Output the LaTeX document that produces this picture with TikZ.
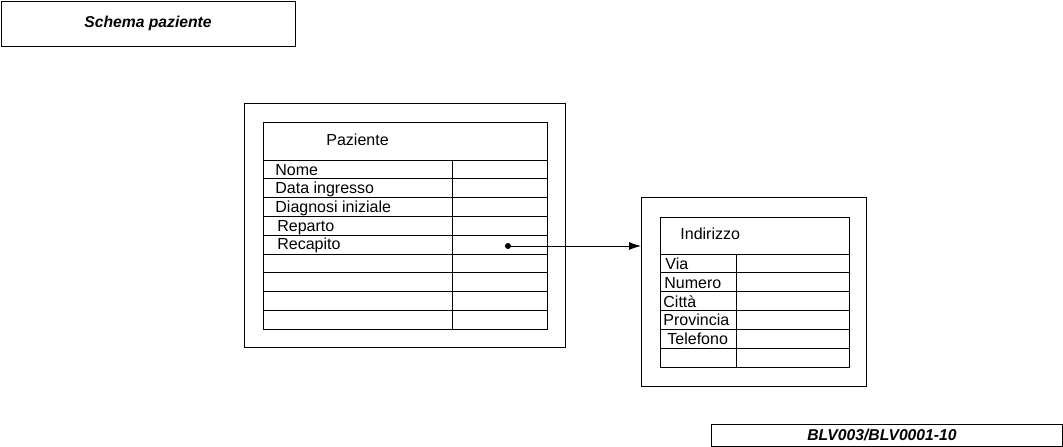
\documentclass[tikz,border=0pt]{standalone}
\usepackage{fontspec}
\setmainfont{Liberation Sans}
\usetikzlibrary{arrows.meta}
\begin{document}
\begin{tikzpicture}[x=1pt,y=-1pt,line width=0.8pt,
  box/.style={draw,anchor=north west,inner sep=0pt,outer sep=0pt},
  lbl/.style={anchor=base west,inner sep=0pt,font=\fontsize{16}{18}\selectfont},
  boldlbl/.style={font=\fontsize{15.7}{18}\selectfont\bfseries\itshape}]
\useasboundingbox (0,0) rectangle (1063,447);
% title
\node[box,minimum width=294pt,minimum height=45pt,boldlbl] (title) at (1,1) {Schema paziente};
% bottom code
\node[box,minimum width=351pt,minimum height=22pt,boldlbl] (code) at (711,424) {\hspace*{-9pt}BLV003/BLV0001-10};
% Paziente
\node[box,minimum width=321pt,minimum height=244pt] (pout) at (244,103) {};
\node[box,minimum width=284pt,minimum height=207pt] (pin) at (263,122) {};
\foreach \k in {0,...,8}{
  \draw (263,{160+\k*18.78}) -- (547,{160+\k*18.78});
}
\draw (452,160) -- (452,329);
\node[lbl] (phead) at (326,145) {Paziente};
\node[lbl] (p1) at (275,{178.8-3.8}) {Nome};
\node[lbl] (p2) at (275,{197.6-4}) {Data ingresso};
\node[lbl] (p3) at (275,{216.3-4}) {Diagnosi iniziale};
\node[lbl] (p4) at (277,{235.1-4}) {Reparto};
\node[lbl] (p5) at (277,{253.9-4}) {Recapito};
% Indirizzo
\node[box,minimum width=225pt,minimum height=189pt] (iout) at (641,197) {};
\node[box,minimum width=189pt,minimum height=150pt] (iin) at (660,217) {};
\foreach \k in {0,...,5}{
  \draw (660,{254+\k*18.83}) -- (849,{254+\k*18.83});
}
\draw (736,254) -- (736,367);
\node[lbl] (ihead) at (680,239.5) {Indirizzo};
\node[lbl] (i1) at (665,{272.8-3.5}) {Via};
\node[lbl] (i2) at (664,{291.7-3.5}) {Numero};
\node[lbl] (i3) at (663,{310.5-3.5}) {Città};
\node[lbl] (i4) at (663,{329.3-3.5}) {Provincia};
\node[lbl] (i5) at (667,{348.2-3.5}) {Telefono};
% connector
\coordinate (dot) at (508,246);
\fill (dot) circle (3pt);
\draw[-{Latex[length=12pt,width=8pt]}] (dot) -- (iout.west |- dot);
\end{tikzpicture}
\end{document}
